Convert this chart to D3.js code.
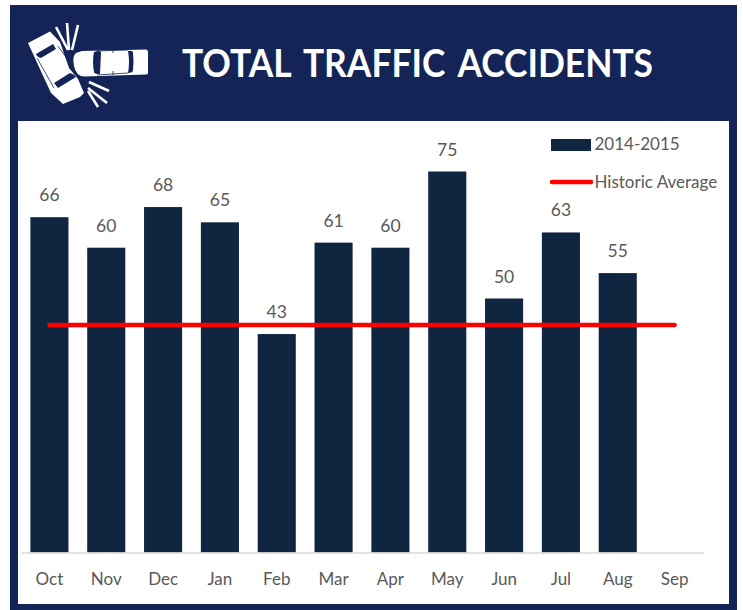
<!DOCTYPE html>
<html><head><meta charset="utf-8">
<script src="https://cdn.jsdelivr.net/npm/d3@7/dist/d3.min.js"></script>
<style>html,body{margin:0;padding:0;background:#fff}svg{display:block}</style></head>
<body><svg id="c" width="743" height="610"></svg>
<script>
const months = ["Oct","Nov","Dec","Jan","Feb","Mar","Apr","May","Jun","Jul","Aug","Sep"];
const values = [66,60,68,65,43,61,60,75,50,63,55,null];
const historicAverage = [44.8,44.8,44.8,44.8,44.8,44.8,44.8,44.8,44.8,44.8,44.8,44.8];
const seriesNames = ["2014-2015","Historic Average"];
const titleText = "TOTAL TRAFFIC ACCIDENTS";

const NAVY="#142456", BAR="#10253f", RED="#ff0000", TXT="#595959", FONT="Lato, Carlito, sans-serif";
const svg=d3.select("#c");
svg.append("rect").attr("x",10).attr("y",5).attr("width",727).attr("height",605).attr("fill",NAVY);
svg.append("rect").attr("x",18).attr("y",121).attr("width",711).attr("height",483).attr("fill","#fff");

const x=d3.scaleBand().domain(months).range([21,703]).paddingInner(0.33).paddingOuter(0.165);
const y=d3.scaleLinear().domain([0,75]).range([552.5,171.5]);

svg.selectAll("rect.bar").data(months.map((m,i)=>({m,v:values[i]})).filter(d=>d.v!=null))
  .join("rect").attr("class","bar").attr("x",d=>x(d.m)).attr("width",x.bandwidth())
  .attr("y",d=>y(d.v)).attr("height",d=>y(0)-y(d.v)).attr("fill",BAR);

const ax=svg.append("g").attr("transform",`translate(0,${y(0)})`).call(d3.axisBottom(x).tickSize(0).tickPadding(20));
ax.select(".domain").attr("stroke","#d9d9d9").attr("stroke-width",1.5);
ax.selectAll("text").attr("fill",TXT).attr("font-family",FONT).attr("font-size",17);

svg.selectAll("text.val").data(months.map((m,i)=>({m,v:values[i]})).filter(d=>d.v!=null))
  .join("text").attr("class","val").attr("x",d=>x(d.m)+x.bandwidth()/2).attr("y",d=>y(d.v)-16)
  .attr("text-anchor","middle").attr("fill",TXT).attr("font-family",FONT).attr("font-size",17.5).text(d=>d.v);

const line=d3.line().x((d,i)=>x(months[i])+x.bandwidth()/2).y(d=>y(d));
svg.append("path").attr("d",line(historicAverage)).attr("fill","none").attr("stroke",RED)
  .attr("stroke-width",4.5).attr("stroke-linecap","round");

// legend
svg.append("rect").attr("x",551).attr("y",139).attr("width",40).attr("height",12).attr("fill",BAR);
svg.append("line").attr("x1",552).attr("x2",591).attr("y1",182).attr("y2",182).attr("stroke",RED).attr("stroke-width",4.5).attr("stroke-linecap","round");
[[seriesNames[0],150],[seriesNames[1],188]].forEach(([t,yy])=>svg.append("text").attr("x",594.5).attr("y",yy)
  .attr("fill",TXT).attr("font-family",FONT).attr("font-size",17).text(t));

// title
svg.append("text").attr("x",182).attr("y",76.5).attr("fill","#fff").attr("font-family",FONT).attr("font-weight",700)
  .attr("font-size",37.5).attr("word-spacing",5).attr("textLength",471).attr("lengthAdjust","spacingAndGlyphs").text(titleText);

// crash icon
const ic=svg.append("g");
const W="#fff";
// horizontal car
ic.append("path").attr("fill",W).attr("d","M82,51 L146,49.5 Q148,49.5 148,52 L148,73 Q148,74.5 146,74.5 L84,76.5 Q76,76 74,66 Q72,56 76,53 Z");
ic.append("path").attr("fill",NAVY).attr("d","M94,52 Q100,50 101,52 L100,74 Q94,74 94,72 Q92,62 94,52 Z");
ic.append("path").attr("fill",NAVY).attr("d","M128,51 Q133,50 133,53 Q134,62 133,70 Q133,73 128,73 Q130,62 128,51 Z");
ic.append("path").attr("fill","none").attr("stroke",NAVY).attr("stroke-width",0.8).attr("d","M96,51 L128,50 M97,75 L128,73 M113,50 L113,53 M113,71 L113,75");
// slanted car
ic.append("path").attr("fill",W).attr("d","M28,43 L50,31.5 L60,42 L69,68 L78,79 L84,93 L80,97 L63,104 L51,93 Z");
ic.append("path").attr("fill",NAVY).attr("d","M36,54 L53,44 L56,49 L41,58 Q37,57 36,54 Z");
ic.append("path").attr("fill",NAVY).attr("d","M54,83 L70,73 Q74,74 76,77 L58,88 Z");
ic.append("path").attr("fill","none").attr("stroke",NAVY).attr("stroke-width",0.8).attr("d","M37,58 L54,88 M58,46 L68,60");
// sparks
[[[56,27],[68,50]],[[67,23],[69,50]],[[78,25],[72,50]],[[89,82],[109,91]],[[88,88],[107,103]],[[88,91],[98,107]]].forEach(s=>{
  ic.append("line").attr("x1",s[0][0]).attr("y1",s[0][1]).attr("x2",s[1][0]).attr("y2",s[1][1]).attr("stroke",W).attr("stroke-width",2.6);
});
</script></body></html>
